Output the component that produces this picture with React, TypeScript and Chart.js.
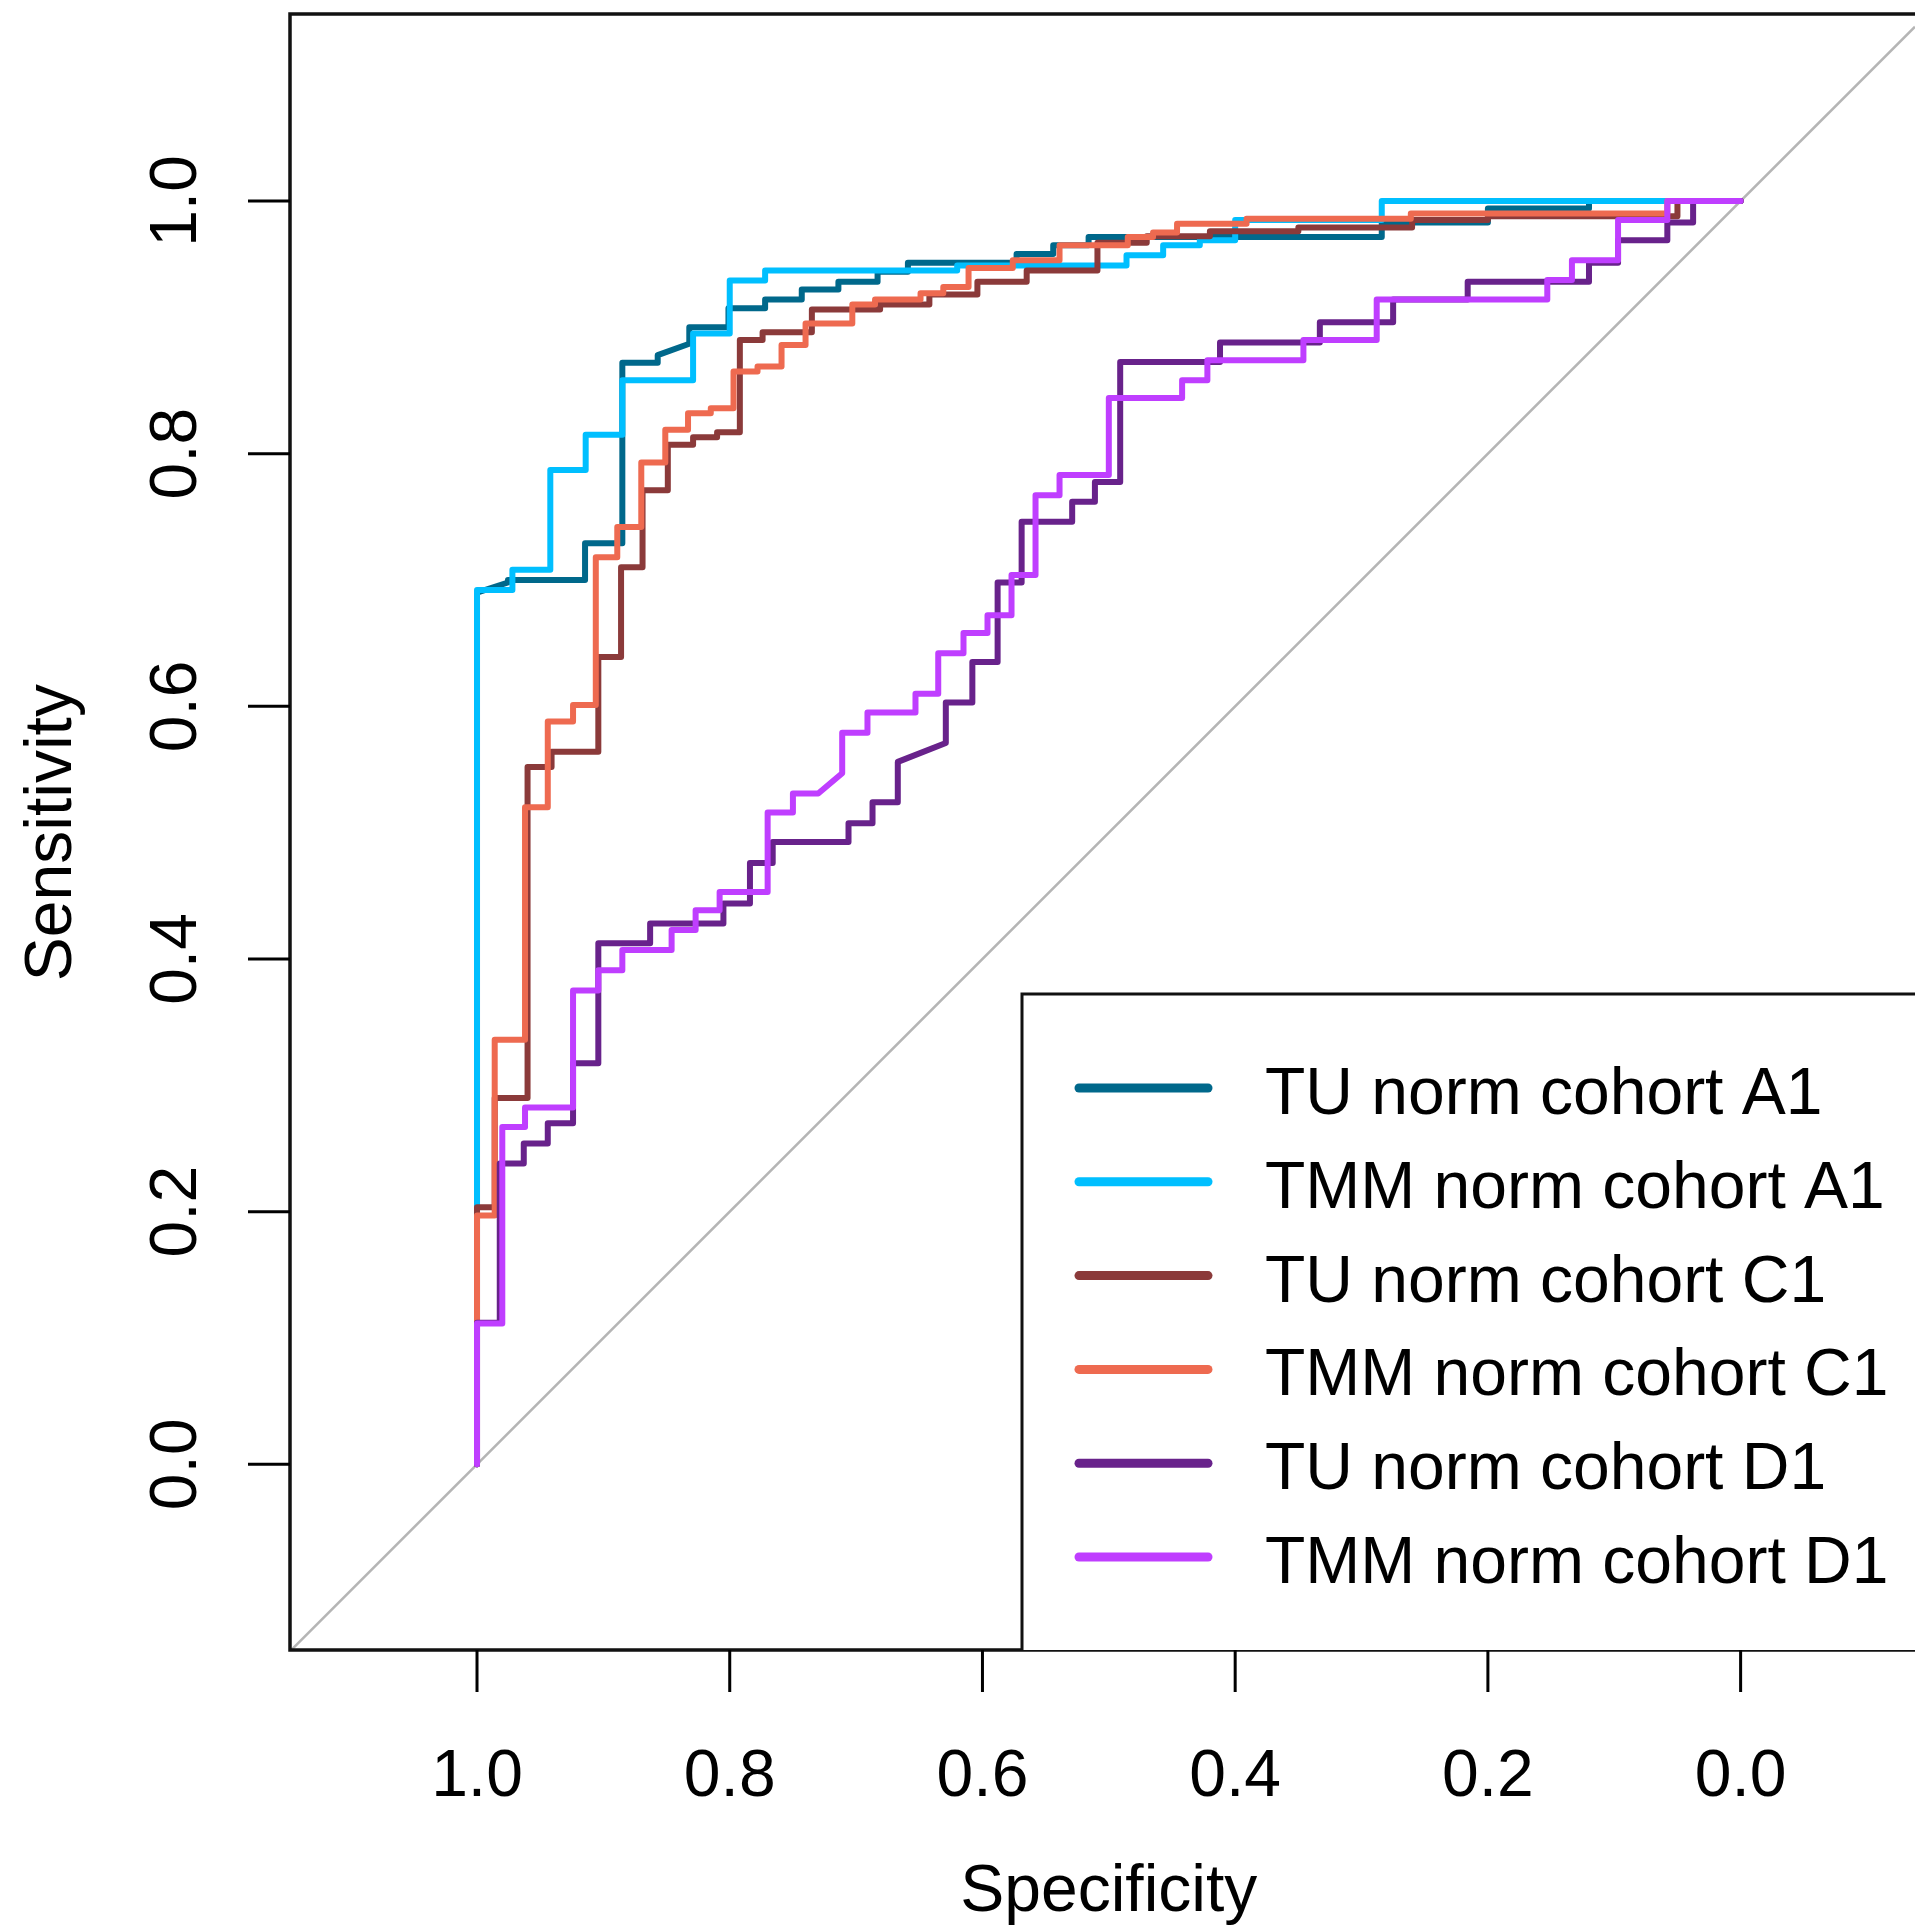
import React, { useEffect, useRef } from "react";
import { Chart, registerables } from "chart.js";

Chart.register(...registerables);

// ---- axis ranges (specificity axis is reversed) ----
const X_MIN = -0.138;
const X_MAX = 1.148;
const Y_MIN = -0.147;
const Y_MAX = 1.148;

const xTicks = [1.0, 0.8, 0.6, 0.4, 0.2, 0.0];
const yTicks = [0.0, 0.2, 0.4, 0.6, 0.8, 1.0];

const xTitle = "Specificity";
const yTitle = "Sensitivity";

const seriesLabels = [
  "TU norm cohort A1",
  "TMM norm cohort A1",
  "TU norm cohort C1",
  "TMM norm cohort C1",
  "TU norm cohort D1",
  "TMM norm cohort D1",
];

const seriesColors = ["#00688B", "#00BFFF", "#8B3A3A", "#EE6A50", "#68228B", "#BF3EFF"];

// ---- ROC vertices: [specificity, sensitivity] ----
const tuA1: [number, number][] = [
  [1, 0], [1, 0.69], [0.9755, 0.698], [0.9755, 0.7], [0.9145, 0.7], [0.9145, 0.729],
  [0.885, 0.729], [0.885, 0.872], [0.857, 0.872], [0.857, 0.878], [0.832, 0.887],
  [0.832, 0.9], [0.801, 0.9], [0.801, 0.915], [0.772, 0.915], [0.772, 0.922],
  [0.743, 0.922], [0.743, 0.93], [0.714, 0.93], [0.714, 0.936], [0.683, 0.936],
  [0.683, 0.944], [0.659, 0.944], [0.659, 0.951], [0.573, 0.951], [0.573, 0.958],
  [0.544, 0.958], [0.544, 0.965], [0.516, 0.965], [0.516, 0.9715], [0.284, 0.9715],
  [0.284, 0.983], [0.2, 0.983], [0.2, 0.994], [0.12, 0.994], [0.12, 1.0], [0, 1.0],
];

const tmmA1: [number, number][] = [
  [1, 0], [1, 0.692], [0.972, 0.692], [0.972, 0.708], [0.942, 0.708], [0.942, 0.787],
  [0.914, 0.787], [0.914, 0.815], [0.885, 0.815], [0.885, 0.858], [0.829, 0.858],
  [0.829, 0.895], [0.8, 0.895], [0.8, 0.937], [0.772, 0.937], [0.772, 0.945],
  [0.62, 0.945], [0.62, 0.949], [0.486, 0.949], [0.486, 0.957], [0.457, 0.957],
  [0.457, 0.965], [0.428, 0.965], [0.428, 0.969], [0.4, 0.969], [0.4, 0.985],
  [0.284, 0.985], [0.284, 1.0], [0, 1.0],
];

const tuC1: [number, number][] = [
  [1, 0], [1, 0.2035], [0.986, 0.2035], [0.986, 0.29], [0.96, 0.29], [0.96, 0.552],
  [0.941, 0.552], [0.941, 0.564], [0.904, 0.564], [0.904, 0.639], [0.886, 0.639],
  [0.886, 0.71], [0.869, 0.71], [0.869, 0.771], [0.849, 0.771], [0.849, 0.807],
  [0.829, 0.807], [0.829, 0.813], [0.81, 0.813], [0.81, 0.817], [0.792, 0.817],
  [0.792, 0.89], [0.774, 0.89], [0.774, 0.896], [0.735, 0.896], [0.735, 0.914],
  [0.681, 0.914], [0.681, 0.918], [0.642, 0.918], [0.642, 0.926], [0.604, 0.926],
  [0.604, 0.936], [0.565, 0.936], [0.565, 0.945], [0.509, 0.945], [0.509, 0.967],
  [0.47, 0.967], [0.47, 0.972], [0.42, 0.972], [0.42, 0.976], [0.35, 0.976],
  [0.35, 0.979], [0.26, 0.979], [0.26, 0.985], [0.2, 0.985], [0.2, 0.988],
  [0.05, 0.988], [0.05, 1.0], [0, 1.0],
];

const tmmC1: [number, number][] = [
  [1, 0], [1, 0.197], [0.986, 0.197], [0.986, 0.336], [0.962, 0.336], [0.962, 0.52],
  [0.944, 0.52], [0.944, 0.588], [0.924, 0.588], [0.924, 0.601], [0.906, 0.601],
  [0.906, 0.718], [0.889, 0.718], [0.889, 0.742], [0.87, 0.742], [0.87, 0.793],
  [0.851, 0.793], [0.851, 0.819], [0.833, 0.819], [0.833, 0.832], [0.815, 0.832],
  [0.815, 0.836], [0.797, 0.836], [0.797, 0.865], [0.778, 0.865], [0.778, 0.869],
  [0.759, 0.869], [0.759, 0.886], [0.74, 0.886], [0.74, 0.903], [0.703, 0.903],
  [0.703, 0.918], [0.685, 0.918], [0.685, 0.922], [0.649, 0.922], [0.649, 0.927],
  [0.631, 0.927], [0.631, 0.932], [0.611, 0.932], [0.611, 0.947], [0.576, 0.947],
  [0.576, 0.953], [0.539, 0.953], [0.539, 0.965], [0.485, 0.965], [0.485, 0.9715],
  [0.465, 0.9715], [0.465, 0.975], [0.446, 0.975], [0.446, 0.982], [0.391, 0.982],
  [0.391, 0.986], [0.261, 0.986], [0.261, 0.99], [0.058, 0.99], [0.058, 1.0], [0, 1.0],
];

const tuD1: [number, number][] = [
  [1, 0], [1, 0.112], [0.982, 0.112], [0.982, 0.238], [0.963, 0.238], [0.963, 0.254],
  [0.944, 0.254], [0.944, 0.27], [0.924, 0.27], [0.924, 0.3175], [0.904, 0.3175],
  [0.904, 0.4125], [0.863, 0.4125], [0.863, 0.428], [0.805, 0.428], [0.805, 0.444],
  [0.784, 0.444], [0.784, 0.476], [0.766, 0.476], [0.766, 0.4925], [0.706, 0.4925],
  [0.706, 0.5075], [0.687, 0.5075], [0.687, 0.524], [0.667, 0.524], [0.667, 0.556],
  [0.629, 0.571], [0.629, 0.603], [0.608, 0.603], [0.608, 0.635], [0.588, 0.635],
  [0.588, 0.698], [0.569, 0.698], [0.569, 0.746], [0.529, 0.746], [0.529, 0.762],
  [0.511, 0.762], [0.511, 0.7775], [0.491, 0.7775], [0.491, 0.8725], [0.412, 0.8725],
  [0.412, 0.888], [0.333, 0.888], [0.333, 0.904], [0.275, 0.904], [0.275, 0.922],
  [0.216, 0.922], [0.216, 0.936], [0.12, 0.936], [0.12, 0.951], [0.097, 0.951],
  [0.097, 0.969], [0.058, 0.969], [0.058, 0.983], [0.0376, 0.983], [0.0376, 1.0], [0, 1.0],
];

const tmmD1: [number, number][] = [
  [1, 0], [1, 0.1115], [0.98, 0.1115], [0.98, 0.267], [0.962, 0.267], [0.962, 0.2825],
  [0.924, 0.2825], [0.924, 0.375], [0.904, 0.375], [0.904, 0.391], [0.885, 0.391],
  [0.885, 0.407], [0.846, 0.407], [0.846, 0.423], [0.827, 0.423], [0.827, 0.4385],
  [0.808, 0.4385], [0.808, 0.453], [0.77, 0.453], [0.77, 0.516], [0.75, 0.516],
  [0.75, 0.531], [0.73, 0.531], [0.711, 0.547], [0.711, 0.579], [0.691, 0.579],
  [0.691, 0.595], [0.653, 0.595], [0.653, 0.61], [0.635, 0.61], [0.635, 0.642],
  [0.615, 0.642], [0.615, 0.658], [0.596, 0.658], [0.596, 0.672], [0.577, 0.672],
  [0.577, 0.704], [0.558, 0.704], [0.558, 0.767], [0.539, 0.767], [0.539, 0.783],
  [0.5, 0.783], [0.5, 0.844], [0.442, 0.844], [0.442, 0.858], [0.422, 0.858],
  [0.422, 0.874], [0.346, 0.874], [0.346, 0.89], [0.288, 0.89], [0.288, 0.922],
  [0.153, 0.922], [0.153, 0.9375], [0.1335, 0.9375], [0.1335, 0.953], [0.097, 0.953],
  [0.097, 0.985], [0.058, 0.985], [0.058, 1.0], [0, 1.0],
];

const seriesPoints = [tuA1, tmmA1, tuC1, tmmC1, tuD1, tmmD1];

const FONT_FAMILY = '"Liberation Sans", Arial, Helvetica, sans-serif';
const FONT_SIZE = 66;

const rFramePlugin = {
  id: "rFrame",
  afterDatasetsDraw(chart: any) {
    const { ctx, chartArea: a, scales } = chart;
    const x = scales.x;
    const y = scales.y;
    ctx.save();

    // plot box (right side is cut off by the image edge)
    ctx.strokeStyle = "#111";
    ctx.lineWidth = 3.5;
    ctx.lineCap = "butt";
    ctx.beginPath();
    ctx.moveTo(a.right + 10, a.top);
    ctx.lineTo(a.left, a.top);
    ctx.lineTo(a.left, a.bottom);
    ctx.lineTo(a.right + 10, a.bottom);
    ctx.stroke();

    // tick marks
    ctx.lineWidth = 3;
    ctx.strokeStyle = "#000";
    ctx.beginPath();
    xTicks.forEach((v) => {
      const px = x.getPixelForValue(v);
      ctx.moveTo(px, a.bottom);
      ctx.lineTo(px, a.bottom + 42);
    });
    yTicks.forEach((v) => {
      const py = y.getPixelForValue(v);
      ctx.moveTo(a.left, py);
      ctx.lineTo(a.left - 42, py);
    });
    ctx.stroke();

    // tick labels
    ctx.fillStyle = "#000";
    ctx.font = `${FONT_SIZE}px ${FONT_FAMILY}`;
    ctx.textAlign = "center";
    ctx.textBaseline = "alphabetic";
    xTicks.forEach((v) => {
      ctx.fillText(v.toFixed(1), x.getPixelForValue(v), a.bottom + 146);
    });
    yTicks.forEach((v) => {
      ctx.save();
      ctx.translate(a.left - 94, y.getPixelForValue(v));
      ctx.rotate(-Math.PI / 2);
      ctx.fillText(v.toFixed(1), 0, 0);
      ctx.restore();
    });

    // axis titles
    ctx.fillText(xTitle, x.getPixelForValue(0.5), a.bottom + 261);
    ctx.save();
    ctx.translate(a.left - 219, y.getPixelForValue(0.5));
    ctx.rotate(-Math.PI / 2);
    ctx.fillText(yTitle, 0, 0);
    ctx.restore();

    // legend (bottom right)
    const lx = a.left + 732;
    const ly = a.top + 980;
    ctx.fillStyle = "#fff";
    ctx.fillRect(lx, ly, a.right + 20 - lx, a.bottom - ly);
    ctx.strokeStyle = "#111";
    ctx.lineWidth = 3;
    ctx.beginPath();
    ctx.moveTo(a.right + 20, ly);
    ctx.lineTo(lx, ly);
    ctx.lineTo(lx, a.bottom);
    ctx.stroke();

    ctx.textAlign = "left";
    ctx.fillStyle = "#000";
    seriesLabels.forEach((lab, i) => {
      const rowY = ly + 94 + i * 93.8;
      ctx.strokeStyle = seriesColors[i];
      ctx.lineWidth = 9;
      ctx.lineCap = "round";
      ctx.beginPath();
      ctx.moveTo(lx + 57, rowY);
      ctx.lineTo(lx + 186, rowY);
      ctx.stroke();
      ctx.fillText(lab, lx + 243, rowY + 26);
    });

    ctx.restore();
  },
};

export default function App() {
  const canvasRef = useRef<HTMLCanvasElement | null>(null);

  useEffect(() => {
    const canvas = canvasRef.current;
    if (!canvas) return;

    const rocDatasets = seriesPoints.map((pts, i) => ({
      label: seriesLabels[i],
      data: pts.map(([s, se]) => ({ x: s, y: se })),
      borderColor: seriesColors[i],
      backgroundColor: seriesColors[i],
      borderWidth: 6,
      pointRadius: 0,
      tension: 0,
      fill: false,
      borderCapStyle: "round" as const,
      borderJoinStyle: "round" as const,
      order: 6 - i,
    }));

    const diagonal = {
      label: "chance",
      data: [
        { x: X_MAX, y: 1 - X_MAX },
        { x: X_MIN, y: 1 - X_MIN },
      ],
      borderColor: "#B5B5B5",
      borderWidth: 2.5,
      pointRadius: 0,
      fill: false,
      tension: 0,
      order: 20,
    };

    const chart = new Chart(canvas, {
      type: "line",
      data: { datasets: [diagonal, ...rocDatasets] as any },
      options: {
        animation: false,
        responsive: false,
        events: [],
        layout: { padding: { left: 290, top: 14, right: 0, bottom: 279 } },
        scales: {
          x: { type: "linear", min: X_MIN, max: X_MAX, reverse: true, display: false },
          y: { type: "linear", min: Y_MIN, max: Y_MAX, display: false },
        },
        plugins: {
          legend: { display: false },
          tooltip: { enabled: false },
          title: { display: false },
        },
      },
      plugins: [rFramePlugin],
    });

    return () => {
      chart.destroy();
    };
  }, []);

  return (
    <div style={{ position: "fixed", left: 0, top: 0, width: 1915, height: 1929, background: "#fff" }}>
      <canvas ref={canvasRef} width={1915} height={1929} style={{ display: "block", width: 1915, height: 1929 }} />
    </div>
  );
}
